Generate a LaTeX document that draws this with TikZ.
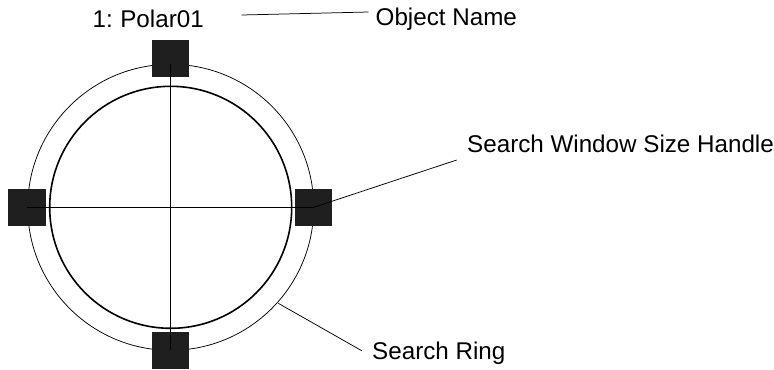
\documentclass[tikz,border=0pt]{standalone}
\usepackage{fontspec}
\setmainfont{Liberation Sans}
\begin{document}
\begin{tikzpicture}[x=1bp,y=-1bp,
  handle/.style={draw=none,fill=black!88,minimum size=37bp,inner sep=0pt},
  label/.style={anchor=base west,inner sep=0pt,font=\fontsize{24.2bp}{28bp}\selectfont},
  thin line/.style={line width=0.75bp},
  cross/.style={line width=0.9bp}]
\useasboundingbox (0,0) rectangle (774,369);
\coordinate (c) at (170.7,207.3);
\draw[thin line] (c) circle[radius=143];
\draw[line width=1.6bp] (c) circle[radius=121];
\node[handle] (ht) at (170.7,58) {};
\node[handle] (hl) at (27,207.3) {};
\node[handle] (hr) at (313.7,207.3) {};
\node[handle] (hb) at (170.7,350.3) {};
\coordinate (top) at (170.7,64.3);
\draw[cross] (top) -- (hb.center);
\draw[cross] (hl.center) -- (hr.center);
\node[label] (name) at (92.5,27.3) {1:\hspace{-1.5bp} Polar01};
\node[label] (objname) at (375.5,25.5) {Object Name};
\node[label] (swsh) at (467,152.7) {Search Window Size Handle};
\node[label] (sring) at (372,359) {Search Ring};
\coordinate (onl) at (241.7,15);
\coordinate (rp) at (278.3,303.3);
\draw[thin line] (onl) -- ([shift={(-7,-13.5)}]objname.base west);
\draw[thin line] (hr.center) -- ([shift={(-10.3,7.3)}]swsh.base west);
\draw[thin line] (rp) -- ([shift={(-10.3,-8.3)}]sring.base west);
\end{tikzpicture}
\end{document}
